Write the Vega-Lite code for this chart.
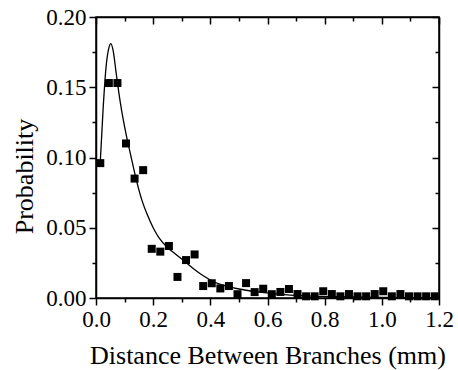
{
  "$schema": "https://vega.github.io/schema/vega-lite/v6.json",
  "width": 343,
  "height": 281,
  "autosize": {"type": "none"},
  "padding": {"left": 96, "top": 17, "right": 19, "bottom": 72},
  "background": "white",
  "config": {"view": {"stroke": "black", "strokeWidth": 1.5}, "font": "Liberation Serif"},
  "datasets": {
    "pts": [
      {"x": 0.015, "y": 0.096}, {"x": 0.045, "y": 0.153}, {"x": 0.075, "y": 0.153}, {"x": 0.105, "y": 0.110},
      {"x": 0.135, "y": 0.085}, {"x": 0.165, "y": 0.091}, {"x": 0.195, "y": 0.035}, {"x": 0.225, "y": 0.033},
      {"x": 0.255, "y": 0.037}, {"x": 0.285, "y": 0.015}, {"x": 0.315, "y": 0.027}, {"x": 0.345, "y": 0.031},
      {"x": 0.375, "y": 0.0085}, {"x": 0.405, "y": 0.0105}, {"x": 0.435, "y": 0.0068}, {"x": 0.465, "y": 0.0085},
      {"x": 0.495, "y": 0.0027}, {"x": 0.525, "y": 0.0106}, {"x": 0.555, "y": 0.0042}, {"x": 0.585, "y": 0.0066},
      {"x": 0.615, "y": 0.0027}, {"x": 0.645, "y": 0.0043}, {"x": 0.675, "y": 0.0064}, {"x": 0.705, "y": 0.0028},
      {"x": 0.735, "y": 0.0012}, {"x": 0.765, "y": 0.0012}, {"x": 0.795, "y": 0.0048}, {"x": 0.825, "y": 0.0028},
      {"x": 0.855, "y": 0.0012}, {"x": 0.885, "y": 0.0028}, {"x": 0.915, "y": 0.0012}, {"x": 0.945, "y": 0.0012},
      {"x": 0.975, "y": 0.0028}, {"x": 1.005, "y": 0.0048}, {"x": 1.035, "y": 0.0012}, {"x": 1.065, "y": 0.0028},
      {"x": 1.095, "y": 0.0012}, {"x": 1.125, "y": 0.0012}, {"x": 1.155, "y": 0.0012}, {"x": 1.185, "y": 0.0012}
    ],
    "fit": [
      {"x": 0.015, "y": 0.097}, {"x": 0.025, "y": 0.135}, {"x": 0.035, "y": 0.164}, {"x": 0.045, "y": 0.178},
      {"x": 0.052, "y": 0.181}, {"x": 0.06, "y": 0.176}, {"x": 0.07, "y": 0.161}, {"x": 0.08, "y": 0.146},
      {"x": 0.09, "y": 0.133}, {"x": 0.10, "y": 0.122}, {"x": 0.11, "y": 0.112}, {"x": 0.12, "y": 0.103},
      {"x": 0.14, "y": 0.085}, {"x": 0.16, "y": 0.070}, {"x": 0.18, "y": 0.059}, {"x": 0.20, "y": 0.050},
      {"x": 0.22, "y": 0.043}, {"x": 0.25, "y": 0.036}, {"x": 0.28, "y": 0.031}, {"x": 0.31, "y": 0.026},
      {"x": 0.34, "y": 0.021}, {"x": 0.37, "y": 0.0165}, {"x": 0.40, "y": 0.0128}, {"x": 0.43, "y": 0.010},
      {"x": 0.46, "y": 0.0082}, {"x": 0.50, "y": 0.0064}, {"x": 0.56, "y": 0.0045}, {"x": 0.62, "y": 0.0031},
      {"x": 0.68, "y": 0.0021}, {"x": 0.75, "y": 0.0014}, {"x": 0.85, "y": 0.0009}, {"x": 1.0, "y": 0.0005},
      {"x": 1.2, "y": 0.0002}
    ]
  },
  "layer": [
    {
      "data": {"name": "fit"},
      "mark": {"type": "line", "color": "black", "strokeWidth": 1.3, "interpolate": "monotone"},
      "encoding": {
        "x": {
          "field": "x", "type": "quantitative",
          "scale": {"domain": [0, 1.2], "nice": false, "zero": false},
          "axis": {
            "orient": "bottom",
            "values": [0, 0.1, 0.2, 0.3, 0.4, 0.5, 0.6, 0.7, 0.8, 0.9, 1.0, 1.1, 1.2],
            "labelExpr": "abs(datum.value*5-round(datum.value*5))<0.001 ? format(datum.value,'.1f') : ''",
            "tickSize": {"condition": {"test": "abs(datum.value*5-round(datum.value*5))<0.001", "value": 7}, "value": 4},
            "tickColor": "black", "tickWidth": 1.5, "domainColor": "black", "domainWidth": 1.5,
            "labelFont": "Liberation Serif", "labelFontSize": 23, "labelColor": "black", "labelPadding": 3,
            "labelFlush": false, "labelOverlap": false, "grid": false,
            "title": "Distance Between Branches (mm)", "titleFont": "Liberation Serif", "titleFontSize": 26,
            "titleFontWeight": "normal", "titleColor": "black", "titlePadding": 11
          }
        },
        "y": {
          "field": "y", "type": "quantitative",
          "scale": {"domain": [0, 0.2], "nice": false, "zero": false},
          "axis": {
            "orient": "left",
            "values": [0, 0.025, 0.05, 0.075, 0.1, 0.125, 0.15, 0.175, 0.2],
            "labelExpr": "abs(datum.value*20-round(datum.value*20))<0.001 ? format(datum.value,'.2f') : ''",
            "tickSize": {"condition": {"test": "abs(datum.value*20-round(datum.value*20))<0.001", "value": 7}, "value": 4},
            "tickColor": "black", "tickWidth": 1.5, "domainColor": "black", "domainWidth": 1.5,
            "labelFont": "Liberation Serif", "labelFontSize": 23, "labelColor": "black", "labelPadding": 3,
            "labelFlush": false, "labelOverlap": false, "grid": false,
            "title": "Probability", "titleFont": "Liberation Serif", "titleFontSize": 26,
            "titleFontWeight": "normal", "titleColor": "black", "titlePadding": 8, "titleY": 159
          }
        }
      }
    },
    {
      "data": {"name": "pts"},
      "mark": {"type": "square", "size": 64, "color": "black", "filled": true, "opacity": 1},
      "encoding": {
        "x": {
          "field": "x", "type": "quantitative",
          "axis": {
            "orient": "top",
            "values": [0, 0.1, 0.2, 0.3, 0.4, 0.5, 0.6, 0.7, 0.8, 0.9, 1.0, 1.1, 1.2],
            "labels": false, "title": null, "grid": false,
            "tickSize": {"condition": {"test": "abs(datum.value*5-round(datum.value*5))<0.001", "value": -7}, "value": -4},
            "tickColor": "black", "tickWidth": 1.5, "domainColor": "black", "domainWidth": 1.5
          }
        },
        "y": {
          "field": "y", "type": "quantitative",
          "axis": {
            "orient": "right",
            "values": [0, 0.025, 0.05, 0.075, 0.1, 0.125, 0.15, 0.175, 0.2],
            "labels": false, "title": null, "grid": false,
            "tickSize": {"condition": {"test": "abs(datum.value*20-round(datum.value*20))<0.001", "value": -7}, "value": -4},
            "tickColor": "black", "tickWidth": 1.5, "domainColor": "black", "domainWidth": 1.5
          }
        }
      }
    }
  ],
  "resolve": {"axis": {"x": "independent", "y": "independent"}}
}
